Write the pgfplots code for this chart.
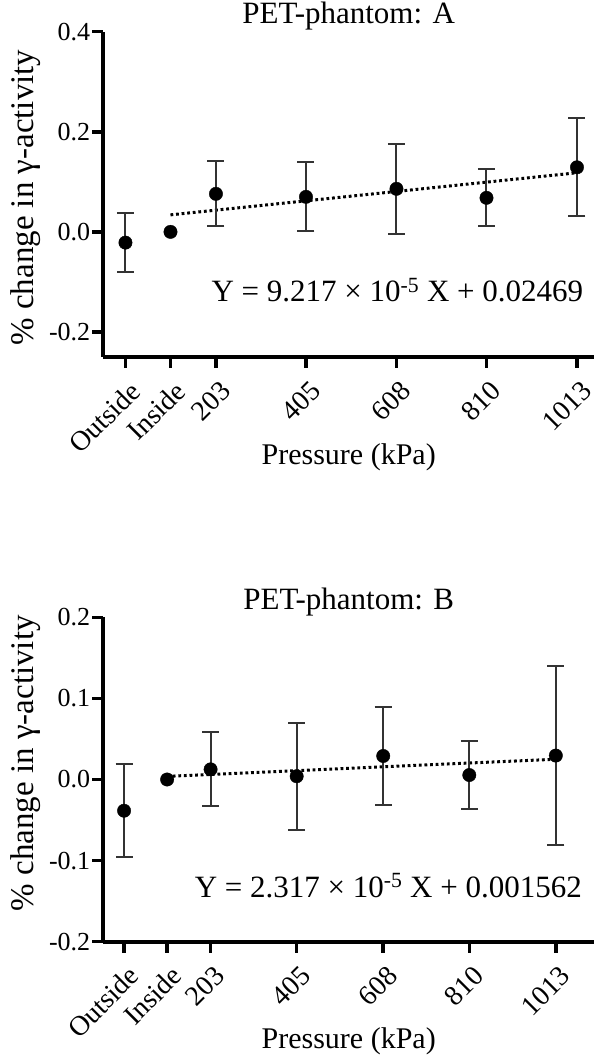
\documentclass[border=0pt]{standalone}
\usepackage{fontspec}
\setmainfont{Liberation Serif}
\usepackage{pgfplots}
\pgfplotsset{compat=1.18}
\pgfplotstableread{
x y e
0 -0.0215 0.0585
203 0.076 0.065
405 0.070 0.069
608 0.086 0.0895
810 0.068 0.057
1013 0.129 0.098
}\dataA
\pgfplotstableread{
x y e
0 -0.0385 0.057
203 0.0125 0.0455
405 0.004 0.066
608 0.029 0.061
810 0.0055 0.0415
1013 0.0295 0.1105
}\dataB
\pgfplotsset{
  gp/.style={
    scale only axis, width=490.6pt,
    axis lines*=left,
    axis line style={-, line width=4pt, black},
    tick align=outside, major tick length=11pt,
    tick style={line width=3.5pt, black},
    clip=false,
    xtick={0,101,203,405,608,810,1013},
    xticklabels={Outside,Inside,203,405,608,810,1013},
    x tick label style={rotate=45, anchor=north east, inner sep=1pt, xshift=-5pt, yshift=-9pt, font=\fontsize{28}{30}\selectfont},
    y tick label style={inner sep=2pt, font=\fontsize{26}{28}\selectfont},
    xlabel={Pressure (kPa)},
    ylabel={\% change in γ-activity},
    xlabel style={at={(axis description cs:0.5,-0.3074)}, anchor=center, font=\fontsize{30}{32}\selectfont},
    title style={at={(axis description cs:0.5,1)}, anchor=base, yshift=2pt, font=\fontsize{31}{33}\selectfont},
  },
  pts/.style={only marks, mark=*, mark size=6.7pt, black,
    error bars/.cd, y dir=both, y explicit,
    error bar style={line width=2pt, black!80},
    error mark options={rotate=90, mark size=8.5pt, line width=2pt, black!80}},
  fit/.style={black, line width=3pt, dash pattern=on 2.8pt off 2.8pt},
}
\begin{document}
\begin{tikzpicture}
\useasboundingbox (0pt,0pt) rectangle (594pt,1057pt);
\begin{axis}[gp, at={(103.4pt,700pt)}, anchor=south west, height=325.3pt,
  xmin=-49.5, xmax=1051.2, ymin=-0.25, ymax=0.4,
  ytick={-0.2,0,0.2,0.4}, yticklabels={-0.2,0.0,0.2,0.4},
  ylabel style={at={(axis description cs:-0.158,0.49)}, anchor=center, font=\fontsize{33}{35}\selectfont},
  title={PET-phantom: A}]
\addplot[fit] coordinates {(101,0.0340) (1013,0.1181)};
\addplot[pts] table[x=x,y=y,y error=e] {\dataA};
\addplot[only marks, mark=*, mark size=6.7pt, black] coordinates {(101,0)};
\node[anchor=base, font=\fontsize{31}{33}\selectfont] at (axis cs:610,-0.1386) {Y = 9.217 × 10\textsuperscript{-5} X + 0.02469};
\end{axis}
\begin{axis}[gp, at={(103.4pt,115.3pt)}, anchor=south west, height=324.4pt,
  xmin=-48.5, xmax=1102.6, ymin=-0.2, ymax=0.2,
  ytick={-0.2,-0.1,0,0.1,0.2}, yticklabels={-0.2,-0.1,0.0,0.1,0.2},
  ylabel style={at={(axis description cs:-0.158,0.55)}, anchor=center, font=\fontsize{33}{35}\selectfont},
  title={PET-phantom: B}]
\addplot[fit] coordinates {(101,0.0039) (1013,0.0250)};
\addplot[pts] table[x=x,y=y,y error=e] {\dataB};
\addplot[only marks, mark=*, mark size=6.7pt, black] coordinates {(101,0)};
\node[anchor=base, font=\fontsize{31}{33}\selectfont] at (axis cs:620,-0.1449) {Y = 2.317 × 10\textsuperscript{-5} X + 0.001562};
\end{axis}
\end{tikzpicture}
\end{document}
